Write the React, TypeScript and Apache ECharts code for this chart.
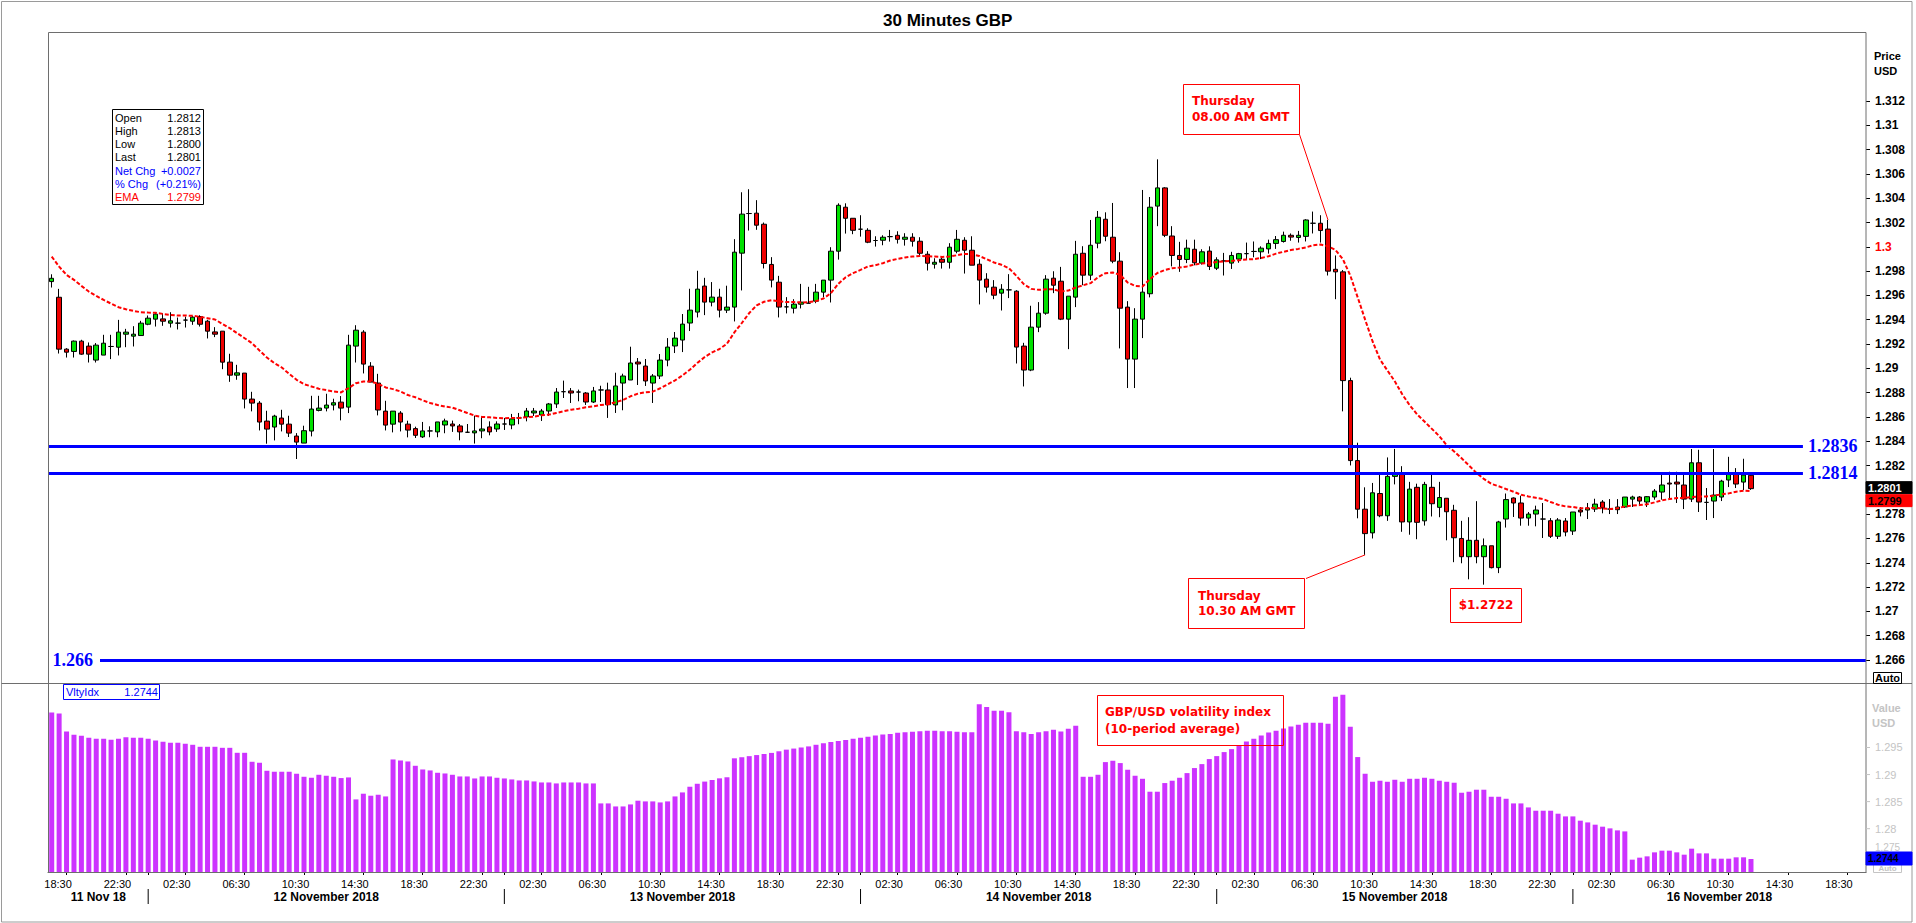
import React, { useEffect, useRef } from "react";
import * as echarts from "echarts";

const TITLE = "30 Minutes GBP";
const FIRST_SLOT_MINUTES = 17 * 60 + 30; // 11 Nov 18, 17:30
const SLOT_COUNT = 245;

const opens = [
  1.29714, 1.29585, 1.29158, 1.29139, 1.29224, 1.29183, 1.29068, 1.29109, 1.2918, 1.29174,
  1.29281, 1.29265, 1.2927, 1.29363, 1.29405, 1.29407, 1.29372, 1.29372, 1.29397, 1.29388,
  1.29426, 1.29388, 1.293, 1.29306, 1.29051, 1.28944, 1.28961, 1.28747, 1.28714, 1.28566,
  1.28517, 1.28591, 1.28541, 1.28443, 1.28385, 1.28484, 1.28654, 1.28673, 1.28698, 1.28722,
  1.28681, 1.29183, 1.29298, 1.29018, 1.28879, 1.28648, 1.28541, 1.28632, 1.28541, 1.28504,
  1.28436, 1.28485, 1.28477, 1.28534, 1.28542, 1.28526, 1.28474, 1.28469, 1.28485, 1.28518,
  1.28501, 1.28542, 1.28534, 1.28592, 1.286, 1.28633, 1.28616, 1.28649, 1.28707, 1.28808,
  1.28814, 1.28805, 1.28797, 1.28723, 1.28822, 1.28822, 1.28699, 1.28879, 1.28904, 1.29052,
  1.29019, 1.28879, 1.28937, 1.29068, 1.29184, 1.29233, 1.29373, 1.29463, 1.29677, 1.29545,
  1.29586, 1.29479, 1.29504, 1.29948, 1.30274, 1.30277, 1.30186, 1.29855, 1.29709, 1.29506,
  1.29495, 1.29528, 1.29536, 1.29553, 1.29627, 1.29726, 1.29964, 1.30326, 1.30235, 1.30145,
  1.30136, 1.30052, 1.30054, 1.30084, 1.30095, 1.30062, 1.30079, 1.30046, 1.29939, 1.29857,
  1.29898, 1.29873, 1.29964, 1.30054, 1.29972, 1.29857, 1.29734, 1.29668, 1.29619, 1.29646,
  1.29635, 1.29183, 1.28986, 1.29339, 1.29454, 1.29742, 1.29717, 1.29405, 1.29586, 1.29947,
  1.29767, 1.3003, 1.30227, 1.30079, 1.29882, 1.29504, 1.29076, 1.29405, 1.29614, 1.30335,
  1.30485, 1.30089, 1.29929, 1.29896, 1.2998, 1.29866, 1.29965, 1.29824, 1.29884, 1.29866,
  1.29899, 1.29944, 1.29962, 1.29959, 1.29983, 1.30028, 1.30044, 1.30095, 1.30077, 1.30086,
  1.30194, 1.30194, 1.30146, 1.29815, 1.29794, 1.28899, 1.28241, 1.27841, 1.27646, 1.2797,
  1.27787, 1.28111, 1.28135, 1.27736, 1.28021, 1.27745, 1.28021, 1.27856, 1.27931, 1.27832,
  1.276, 1.2745, 1.27585, 1.2745, 1.2754, 1.2736, 1.2776, 1.27933, 1.27892, 1.27768,
  1.27801, 1.2776, 1.27746, 1.27618, 1.27744, 1.27661, 1.27834, 1.27834, 1.27842, 1.279,
  1.27842, 1.27837, 1.27859, 1.27924, 1.27941, 1.279, 1.27941, 1.27982, 1.28056, 1.28064,
  1.2804, 1.27924, 1.28223, 1.27897, 1.27908, 1.27941, 1.28081, 1.2813, 1.28064, 1.2812
];
const closes = [
  1.29741, 1.29158, 1.29133, 1.29224, 1.29117, 1.29117, 1.29191, 1.29207, 1.2918, 1.29298,
  1.29298, 1.29281, 1.29372, 1.29413, 1.29446, 1.29388, 1.29391, 1.29372, 1.29397, 1.29421,
  1.29363, 1.29306, 1.29281, 1.29051, 1.28944, 1.28963, 1.28747, 1.28714, 1.28558, 1.285,
  1.28607, 1.28541, 1.28467, 1.28393, 1.28487, 1.28665, 1.28673, 1.28698, 1.28717, 1.28673,
  1.29191, 1.29314, 1.29035, 1.28887, 1.28657, 1.28533, 1.28648, 1.28558, 1.28492, 1.28449,
  1.28485, 1.28485, 1.28559, 1.28567, 1.28526, 1.28477, 1.28474, 1.28485, 1.28501, 1.28477,
  1.28542, 1.28542, 1.28584, 1.28592, 1.28649, 1.28649, 1.28649, 1.28707, 1.28805, 1.28808,
  1.28797, 1.28805, 1.28723, 1.28814, 1.28822, 1.28701, 1.28855, 1.28937, 1.29044, 1.29036,
  1.28896, 1.28937, 1.29068, 1.29175, 1.29249, 1.29364, 1.29479, 1.29652, 1.29545, 1.29586,
  1.29479, 1.29504, 1.29956, 1.30269, 1.30274, 1.30178, 1.29863, 1.29726, 1.29504, 1.29506,
  1.29528, 1.29545, 1.29536, 1.29627, 1.29726, 1.29964, 1.30342, 1.30235, 1.30136, 1.30145,
  1.30038, 1.30052, 1.30079, 1.30084, 1.30062, 1.30079, 1.30046, 1.29947, 1.29865, 1.29873,
  1.29873, 1.29997, 1.30062, 1.29972, 1.29849, 1.29726, 1.29668, 1.29602, 1.29651, 1.29646,
  1.29175, 1.28986, 1.29339, 1.29454, 1.29734, 1.29684, 1.29405, 1.29594, 1.29939, 1.29767,
  1.30013, 1.30243, 1.30087, 1.29882, 1.29495, 1.29076, 1.29405, 1.29627, 1.30326, 1.30485,
  1.30095, 1.29929, 1.29896, 1.29989, 1.29869, 1.29959, 1.29839, 1.29893, 1.29884, 1.29929,
  1.29944, 1.29944, 1.29962, 1.29989, 1.30028, 1.30059, 1.30095, 1.3008, 1.30095, 1.30221,
  1.30194, 1.30134, 1.298, 1.29794, 1.28899, 1.28241, 1.27841, 1.2764, 1.27976, 1.27787,
  1.28111, 1.28135, 1.27736, 1.28006, 1.27733, 1.28045, 1.27886, 1.27937, 1.2782, 1.27606,
  1.2745, 1.27585, 1.2745, 1.2754, 1.2736, 1.27736, 1.2792, 1.27892, 1.27768, 1.27801,
  1.27834, 1.2776, 1.27618, 1.27752, 1.27653, 1.27818, 1.27818, 1.27851, 1.27883, 1.27851,
  1.27842, 1.27859, 1.27941, 1.27941, 1.27908, 1.27944, 1.2799, 1.2804, 1.28048, 1.28048,
  1.27924, 1.28223, 1.279, 1.27897, 1.27957, 1.28072, 1.28138, 1.28048, 1.28122, 1.2801
];
const lows = [
  1.29665, 1.29122, 1.29089, 1.29089, 1.29111, 1.29048, 1.29048, 1.29109, 1.29076, 1.29106,
  1.29174, 1.2918, 1.2927, 1.29355, 1.29344, 1.2935, 1.29336, 1.2932, 1.29336, 1.29358,
  1.29344, 1.29246, 1.29257, 1.28993, 1.28889, 1.28906, 1.2867, 1.28646, 1.28489, 1.2838,
  1.28407, 1.28481, 1.28435, 1.28254, 1.28385, 1.2844, 1.28646, 1.28646, 1.28654, 1.28572,
  1.28632, 1.29048, 1.28958, 1.28887, 1.28613, 1.28489, 1.28473, 1.28481, 1.28432, 1.28427,
  1.28427, 1.28433, 1.28433, 1.28466, 1.28477, 1.28408, 1.28469, 1.28381, 1.28425, 1.28449,
  1.28477, 1.28493, 1.28499, 1.2854, 1.28564, 1.28608, 1.28567, 1.28608, 1.28674, 1.28756,
  1.28715, 1.28729, 1.28699, 1.28715, 1.28723, 1.28592, 1.28633, 1.28655, 1.28904, 1.28863,
  1.28855, 1.28715, 1.28912, 1.29017, 1.29126, 1.29134, 1.29307, 1.29419, 1.29438, 1.2951,
  1.29419, 1.29455, 1.29386, 1.29641, 1.30134, 1.3014, 1.29822, 1.29666, 1.29419, 1.29452,
  1.29452, 1.29493, 1.29536, 1.29536, 1.29586, 1.29542, 1.29895, 1.30109, 1.30104, 1.30084,
  1.3003, 1.30002, 1.30013, 1.30043, 1.30027, 1.3001, 1.30002, 1.2992, 1.29805, 1.29821,
  1.29821, 1.29821, 1.29947, 1.2978, 1.29849, 1.29526, 1.29624, 1.29569, 1.29476, 1.29578,
  1.2904, 1.28851, 1.28977, 1.29298, 1.29441, 1.29619, 1.29397, 1.29158, 1.29504, 1.29684,
  1.29726, 1.29988, 1.30046, 1.29865, 1.29164, 1.28838, 1.28838, 1.29249, 1.29584, 1.3017,
  1.3008, 1.29839, 1.29794, 1.29866, 1.29848, 1.29854, 1.29809, 1.29809, 1.29764, 1.29818,
  1.29869, 1.29899, 1.29914, 1.29899, 1.29944, 1.29983, 1.30035, 1.3005, 1.30035, 1.30044,
  1.3011, 1.30035, 1.29764, 1.29569, 1.28646, 1.28201, 1.27766, 1.27465, 1.276, 1.27775,
  1.27745, 1.28045, 1.27655, 1.27631, 1.27594, 1.27706, 1.27781, 1.27775, 1.27585, 1.27405,
  1.27396, 1.27264, 1.27396, 1.2722, 1.27354, 1.27315, 1.2769, 1.27777, 1.27705, 1.27705,
  1.277, 1.27604, 1.27604, 1.27596, 1.27618, 1.27629, 1.27782, 1.2776, 1.27818, 1.27807,
  1.27801, 1.27801, 1.27851, 1.27859, 1.27875, 1.27859, 1.27919, 1.27919, 1.27919, 1.27892,
  1.27842, 1.279, 1.27818, 1.27752, 1.27768, 1.27908, 1.28023, 1.28015, 1.27998, 1.28
];
const highs = [
  1.29774, 1.29654, 1.29166, 1.29229, 1.29235, 1.29213, 1.29208, 1.29276, 1.29276, 1.29399,
  1.29325, 1.29347, 1.29391, 1.29435, 1.29462, 1.29454, 1.29462, 1.29418, 1.29426, 1.29432,
  1.29437, 1.29399, 1.29339, 1.29306, 1.2912, 1.29029, 1.28961, 1.28807, 1.28731, 1.28651,
  1.28618, 1.28659, 1.2861, 1.28467, 1.28528, 1.28774, 1.28774, 1.28791, 1.2875, 1.28772,
  1.29276, 1.29355, 1.29314, 1.29051, 1.28955, 1.28733, 1.28648, 1.28648, 1.28569, 1.2852,
  1.28559, 1.28523, 1.28559, 1.28586, 1.2857, 1.28542, 1.28542, 1.28611, 1.28605, 1.28564,
  1.28564, 1.28592, 1.28625, 1.28633, 1.28674, 1.28674, 1.28666, 1.28715, 1.28838, 1.28899,
  1.28838, 1.28825, 1.28805, 1.28847, 1.28857, 1.28882, 1.28964, 1.28956, 1.29178, 1.29085,
  1.29077, 1.28953, 1.29118, 1.29249, 1.29299, 1.29447, 1.29655, 1.29803, 1.29745, 1.2971,
  1.29655, 1.2968, 1.30063, 1.30449, 1.30474, 1.30384, 1.302, 1.29915, 1.29761, 1.29586,
  1.29569, 1.29695, 1.29671, 1.29695, 1.29726, 1.29997, 1.30358, 1.30358, 1.30235, 1.3026,
  1.30153, 1.30087, 1.30095, 1.30139, 1.30128, 1.30112, 1.30112, 1.30079, 1.29964, 1.29906,
  1.29915, 1.3003, 1.30139, 1.30079, 1.30087, 1.29898, 1.29783, 1.29726, 1.29693, 1.29775,
  1.29643, 1.2921, 1.29515, 1.29545, 1.29767, 1.29799, 1.29835, 1.29594, 1.30049, 1.30005,
  1.30221, 1.30295, 1.30284, 1.30361, 1.29956, 1.29553, 1.29495, 1.30468, 1.3041, 1.3072,
  1.30491, 1.3017, 1.30041, 1.30059, 1.30059, 1.2998, 1.30004, 1.29914, 1.2995, 1.29959,
  1.2995, 1.30035, 1.30044, 1.30004, 1.30059, 1.30089, 1.30125, 1.3011, 1.30131, 1.30227,
  1.3029, 1.3026, 1.30221, 1.29929, 1.29809, 1.28923, 1.28388, 1.28021, 1.28057, 1.28126,
  1.28267, 1.28337, 1.28195, 1.28066, 1.28051, 1.28066, 1.28126, 1.28066, 1.27931, 1.27877,
  1.27745, 1.27775, 1.27907, 1.276, 1.2754, 1.27745, 1.2797, 1.27938, 1.27952, 1.27818,
  1.2787, 1.27892, 1.27768, 1.27768, 1.27768, 1.27818, 1.27859, 1.27892, 1.27927, 1.27916,
  1.27924, 1.27924, 1.27941, 1.27952, 1.27949, 1.27949, 1.28007, 1.28125, 1.28149, 1.28149,
  1.28125, 1.28336, 1.2833, 1.28015, 1.28336, 1.28083, 1.28272, 1.28179, 1.28256, 1.2813
];
const emaValues = [
  1.2992, 1.29837, 1.29769, 1.29728, 1.29679, 1.29632, 1.29596, 1.29563, 1.29533, 1.29503,
  1.29487, 1.29473, 1.29462, 1.29459, 1.29457, 1.29448, 1.2944, 1.29435, 1.29435, 1.29432,
  1.29424, 1.29413, 1.29402, 1.29366, 1.29331, 1.29289, 1.29248, 1.29207, 1.29147, 1.29089,
  1.29043, 1.29007, 1.28955, 1.28906, 1.2887, 1.28851, 1.28832, 1.28821, 1.2881, 1.28802,
  1.28837, 1.28878, 1.28892, 1.28892, 1.28873, 1.28843, 1.28829, 1.2881, 1.2878, 1.28762,
  1.28737, 1.28715, 1.28699, 1.28685, 1.28677, 1.28655, 1.28633, 1.28611, 1.286, 1.28597,
  1.28592, 1.28589, 1.28592, 1.28592, 1.28597, 1.28603, 1.28614, 1.28619, 1.28633, 1.28647,
  1.2866, 1.28668, 1.28679, 1.28687, 1.28699, 1.28704, 1.28721, 1.2874, 1.2877, 1.28792,
  1.28803, 1.28808, 1.28836, 1.28868, 1.28901, 1.28942, 1.28989, 1.29044, 1.29093, 1.29131,
  1.29159, 1.29203, 1.29296, 1.29373, 1.29455, 1.29518, 1.29548, 1.2956, 1.29553, 1.29545,
  1.29545, 1.29542, 1.29545, 1.29553, 1.29575, 1.29619, 1.29695, 1.2975, 1.29783, 1.2981,
  1.29838, 1.29849, 1.29865, 1.29887, 1.29901, 1.29912, 1.2992, 1.29925, 1.29923, 1.2992,
  1.29917, 1.2992, 1.29931, 1.29942, 1.29939, 1.29925, 1.29898, 1.29871, 1.29852, 1.29824,
  1.29761, 1.29693, 1.29654, 1.29646, 1.29651, 1.29651, 1.29632, 1.2964, 1.29665, 1.29684,
  1.29701, 1.2975, 1.29783, 1.29789, 1.29769, 1.29706, 1.29679, 1.29673, 1.29734, 1.29785,
  1.29809, 1.29824, 1.2983, 1.29839, 1.29854, 1.29863, 1.29866, 1.29875, 1.29881, 1.29884,
  1.2989, 1.29896, 1.29899, 1.29908, 1.29923, 1.29944, 1.29959, 1.29974, 1.29983, 1.29995,
  1.30013, 1.30019, 1.30004, 1.29974, 1.29899, 1.29764, 1.29584, 1.29401, 1.29223, 1.29073,
  1.28983, 1.28893, 1.28787, 1.28697, 1.28622, 1.28562, 1.28502, 1.28442, 1.28367, 1.28316,
  1.2826, 1.282, 1.2814, 1.2809, 1.2805, 1.2803, 1.28007, 1.27985, 1.2796, 1.27946,
  1.27935, 1.27924, 1.279, 1.27878, 1.27864, 1.27859, 1.27848, 1.27848, 1.27853, 1.27848,
  1.27842, 1.27848, 1.27864, 1.2787, 1.27875, 1.27881, 1.27897, 1.27914, 1.27924, 1.27933,
  1.27933, 1.27941, 1.27946, 1.27946, 1.27952, 1.27963, 1.27971, 1.27985, 1.27993, 1.2799
];
const volatility = [
  1.30146, 1.30127, 1.29795, 1.29734, 1.29716, 1.29679, 1.29661, 1.29661, 1.29642, 1.29661,
  1.29691, 1.29679, 1.29679, 1.29661, 1.2963, 1.29605, 1.29587, 1.29587, 1.29568, 1.2955,
  1.29513, 1.29513, 1.29513, 1.29494, 1.29494, 1.29402, 1.29402, 1.29236, 1.29218, 1.2907,
  1.29052, 1.29052, 1.29052, 1.29015, 1.28959, 1.28941, 1.28996, 1.28978, 1.28959, 1.28935,
  1.28947, 1.28541, 1.28646, 1.28609, 1.28627, 1.28596, 1.29279, 1.2926, 1.29242, 1.29162,
  1.29094, 1.29076, 1.29033, 1.2902, 1.28996, 1.28965, 1.28965, 1.28928, 1.28965, 1.28965,
  1.28941, 1.28928, 1.2891, 1.28891, 1.28891, 1.28873, 1.28854, 1.28854, 1.28836, 1.28854,
  1.28854, 1.28854, 1.28836, 1.28836, 1.28467, 1.28467, 1.28411, 1.28411, 1.28448, 1.28517,
  1.28504, 1.28504, 1.28485, 1.28504, 1.28596, 1.2867, 1.28775, 1.2883,
  1.2887, 1.289, 1.2893, 1.2895, 1.293, 1.2932, 1.2934, 1.2936, 1.2938, 1.294,
  1.2943, 1.2946, 1.2948, 1.295, 1.2952, 1.2955, 1.2958, 1.296, 1.2962, 1.2964,
  1.2966, 1.2968, 1.297, 1.2972, 1.2974, 1.2975, 1.2977, 1.2978, 1.2979, 1.298,
  1.2981, 1.2981, 1.298, 1.298, 1.2979, 1.2978, 1.2978, 1.303, 1.3025, 1.3018,
  1.3018, 1.3015, 1.298, 1.2978, 1.2975, 1.2978, 1.298,
  1.29827, 1.29795, 1.29845, 1.299, 1.28959, 1.28959, 1.28996, 1.2923, 1.29255, 1.29212,
  1.29089, 1.28978, 1.28922, 1.28683, 1.28683, 1.28843, 1.28886, 1.28941, 1.29027, 1.2912,
  1.29193, 1.29286, 1.29341, 1.29415, 1.2947, 1.29544, 1.29611, 1.29661, 1.29721, 1.29777,
  1.29808, 1.29851, 1.29887, 1.29919, 1.29956, 1.29956, 1.29956, 1.29937, 1.30435, 1.30472,
  1.29882, 1.29323, 1.29015, 1.28867, 1.28886, 1.28867, 1.28904, 1.28867, 1.28922, 1.28922,
  1.28941, 1.28922, 1.28886, 1.28867, 1.28849, 1.28664, 1.28683, 1.2872, 1.2872, 1.2859,
  1.2859, 1.28553, 1.28467, 1.28467, 1.28393, 1.28332, 1.28332, 1.28332, 1.28277, 1.28227,
  1.28227, 1.28148, 1.28116, 1.28074, 1.28037, 1.28006, 1.27969, 1.2795, 1.27428, 1.27465,
  1.27489, 1.27563, 1.27594, 1.27594, 1.27563, 1.2752, 1.27631, 1.27544, 1.27544, 1.27446,
  1.27446, 1.27446, 1.27471, 1.27471, 1.2744
];

const resistanceLevels = [1.2836, 1.2814];
const supportLevel = 1.266;
const volTicks = [1.295, 1.29, 1.285, 1.28, 1.275];
const hiddenPriceLabels = ["1.28"]; // covered by the last-price tag
const dateLabels = ["11 Nov 18", "12 November 2018", "13 November 2018", "14 November 2018", "15 November 2018", "16 November 2018"];
const infoRows: [string, string, string][] = [
  ["Open", "1.2812", "#000000"],
  ["High", "1.2813", "#000000"],
  ["Low", "1.2800", "#000000"],
  ["Last", "1.2801", "#000000"],
  ["Net Chg", "+0.0027", "#0000ff"],
  ["% Chg", "(+0.21%)", "#0000ff"],
  ["EMA", "1.2799", "#ff0000"],
];
const lastCloseText = "1.2801";
const lastEmaText = "1.2799";
const lastVolText = "1.2744";
const annot1Index = 172; // Thursday 08.00 AM GMT candle
const annot2Index = 177; // Thursday 10.30 AM GMT candle

function slotMinutes(i: number) {
  return (FIRST_SLOT_MINUTES + i * 30) % 1440;
}
function slotTime(i: number) {
  const m = slotMinutes(i);
  return `${String(Math.floor(m / 60)).padStart(2, "0")}:${String(m % 60).padStart(2, "0")}`;
}
const categories = Array.from({ length: SLOT_COUNT }, (_, i) => slotTime(i));
const isLabelSlot = (i: number) => {
  const m = slotMinutes(i);
  return m % 60 === 30 && Math.floor(m / 60) % 4 === 2;
};
const isMidnight = (i: number) => slotMinutes(i) === 0;
const midnightIdx = categories.map((_, i) => i).filter(isMidnight);

const candleData = opens.map((o, i) => [o, closes[i], lows[i], highs[i]]);

const SANS = "Liberation Sans";
const BOLDSANS = "DejaVu Sans";

export default function App() {
  const ref = useRef<HTMLDivElement>(null);
  useEffect(() => {
    if (!ref.current) return;
    const chart = echarts.init(ref.current, undefined, { renderer: "svg" });
    const option: any = {
      animation: false,
      backgroundColor: "#ffffff",
      title: {
        text: TITLE,
        left: 878,
        top: 7,
        textStyle: { fontFamily: SANS, fontWeight: "bold", fontSize: 17, color: "#000" },
      },
      grid: [
        { left: 48, right: 50, top: 101, bottom: 263 },
        { left: 48, right: 50, top: 683.5, bottom: 51 },
      ],
      xAxis: [
        {
          type: "category", gridIndex: 0, data: categories, boundaryGap: true,
          axisLine: { show: false }, axisTick: { show: false }, axisLabel: { show: false }, splitLine: { show: false },
        },
        {
          type: "category", gridIndex: 1, data: categories, boundaryGap: true,
          axisLine: { lineStyle: { color: "#606060", width: 1 } },
          axisTick: {
            show: true, alignWithLabel: true, length: 3, lineStyle: { color: "#000" },
            interval: (i: number) => isLabelSlot(i) || isMidnight(i),
          },
          axisLabel: {
            interval: (i: number) => isLabelSlot(i),
            fontFamily: SANS, fontSize: 11, color: "#000", margin: 6, padding: [0, 17, 0, 0],
          },
          splitLine: { show: false },
        },
      ],
      yAxis: [
        {
          type: "value", gridIndex: 0, position: "right", min: 1.266, max: 1.312, interval: 0.002,
          splitLine: { show: false }, axisLine: { show: false },
          axisTick: { show: true, length: 4, lineStyle: { color: "#000" } },
          axisLabel: {
            margin: 9, showMinLabel: true, showMaxLabel: true,
            fontFamily: SANS, fontWeight: "bold", fontSize: 12, color: "#000",
            formatter: (v: number) => {
              const s = String(parseFloat(v.toFixed(3)));
              if (hiddenPriceLabels.includes(s)) return "";
              return s === "1.3" ? `{r|${s}}` : s;
            },
            rich: { r: { color: "#ff0000", fontFamily: SANS, fontWeight: "bold", fontSize: 12 } },
          },
        },
        {
          type: "value", gridIndex: 1, position: "right", min: 1.272, max: 1.30682, startValue: 1.272,
          splitLine: { show: false }, axisLine: { show: false }, axisTick: { show: false }, axisLabel: { show: false },
        },
      ],
      series: [
        {
          name: "GBP", type: "candlestick", xAxisIndex: 0, yAxisIndex: 0, data: candleData, barWidth: 5,
          itemStyle: {
            color: "#00e000", color0: "#ee0000", borderColor: "#000", borderColor0: "#000",
            borderColorDoji: "#000", borderWidth: 1,
          },
          markLine: {
            silent: true, animation: false, symbol: ["none", "none"],
            lineStyle: { color: "#0000ff", width: 3, type: "solid" },
            label: { color: "#0000ff", fontFamily: "Liberation Serif", fontWeight: "bold", fontSize: 18, distance: 5 },
            emphasis: { disabled: true },
            data: [
              ...resistanceLevels.map((lv) => [
                { coord: [0, lv], x: 48 },
                { coord: [236, lv], label: { position: "end", formatter: String(lv) } },
              ]),
              [
                { coord: [7, supportLevel], x: 100 },
                { coord: [244, supportLevel], x: 1866, label: { position: "start", distance: 7, formatter: String(supportLevel) } },
              ],
            ],
          },
          z: 2,
        },
        {
          name: "EMA", type: "line", xAxisIndex: 0, yAxisIndex: 0, data: emaValues, symbol: "none",
          lineStyle: { color: "#ff0000", width: 2, type: [4, 2] }, z: 3, silent: true,
        },
        {
          name: "VltyIdx", type: "bar", xAxisIndex: 1, yAxisIndex: 1, data: volatility, barWidth: 5, clip: true,
          itemStyle: { color: "#cc33ff" }, silent: true,
        },
      ],
    };
    chart.setOption(option);

    const P = (i: number, v: number) => chart.convertToPixel({ xAxisIndex: 0, yAxisIndex: 0 }, [i, v]) as number[];
    const volY = (v: number) => chart.convertToPixel({ yAxisIndex: 1 }, v) as number;
    const volX = (i: number) => chart.convertToPixel({ xAxisIndex: 1 }, i) as number;

    const txt = (x: number, y: number, text: string, o: any = {}) => ({
      type: "text", x, y, silent: true, z: o.z || 50,
      style: {
        text, fill: o.fill || "#000", fontSize: o.fontSize || 11, fontFamily: o.fontFamily || SANS,
        fontWeight: o.fontWeight || "normal", align: o.align || "left", verticalAlign: "middle",
        textShadowColor: o.shadow ? "rgba(120,0,0,0.45)" : undefined,
        textShadowOffsetX: o.shadow ? 1 : 0, textShadowOffsetY: o.shadow ? 1 : 0,
      },
    });
    const rect = (x: number, y: number, w: number, h: number, stroke: string, fill = "none", z = 40) => ({
      type: "rect", silent: true, z, shape: { x, y, width: w, height: h }, style: { fill, stroke, lineWidth: 1 },
    });
    const line = (x1: number, y1: number, x2: number, y2: number, stroke: string, z = 40) => ({
      type: "line", silent: true, z, shape: { x1, y1, x2, y2 }, style: { stroke, lineWidth: 1 },
    });

    const g: any[] = [];
    // frames
    g.push(rect(1.5, 1.5, 1910.5, 920.5, "#9a9a9a", "none", 30));
    g.push(rect(48.5, 32.5, 1817.5, 840, "#6e6e6e", "none", 30));
    g.push(line(1.5, 683.5, 1912, 683.5, "#6e6e6e", 30));

    // info box
    g.push(rect(112.5, 109.5, 91, 95, "#000"));
    infoRows.forEach(([k, v, c], r) => {
      const y = 117.5 + r * 13.3;
      g.push(txt(115, y, k, { fill: c }));
      g.push(txt(201, y, v, { fill: c, align: "right" }));
    });

    // price axis header + auto
    g.push(txt(1874, 56, "Price", { fontWeight: "bold" }));
    g.push(txt(1874, 71, "USD", { fontWeight: "bold" }));
    g.push(rect(1873.5, 672.5, 28, 11, "#000"));
    g.push(txt(1887.5, 678, "Auto", { fontWeight: "bold", align: "center" }));

    // last price tags
    const yc = P(opens.length - 1, closes[closes.length - 1])[1];
    g.push(rect(1866, yc - 7, 46, 12, "#000", "#000", 45));
    g.push(txt(1868, yc - 1, lastCloseText, { fill: "#fff", fontWeight: "bold" }));
    g.push(rect(1866, yc + 6, 46, 12, "#ff0000", "#ff0000", 45));
    g.push(txt(1868, yc + 12, lastEmaText, { fill: "#000", fontWeight: "bold" }));

    // volatility axis
    g.push(txt(1872, 708, "Value", { fontWeight: "bold", fill: "#c4c4c4" }));
    g.push(txt(1872, 723, "USD", { fontWeight: "bold", fill: "#c4c4c4" }));
    const yv = volY(volatility[volatility.length - 1]);
    volTicks.forEach((v) => {
      const y = volY(v);
      g.push(line(1866, y, 1870, y, "#c4c4c4"));
      // keep the tick label clear of the last-value tag
      const ly = Math.abs(y - yv) < 12 ? yv - 12 : y;
      g.push(txt(1875, ly, String(v), { fill: "#c4c4c4", fontSize: Math.abs(y - yv) < 12 ? 10 : 11 }));
    });
    g.push(rect(1873.5, 863.5, 28, 9, "#c4c4c4"));
    g.push(txt(1887.5, 868.5, "Auto", { fontWeight: "bold", fill: "#c4c4c4", align: "center", fontSize: 8 }));
    g.push(rect(1866, yv - 7, 46, 13, "#0000ff", "#0000ff", 45));
    g.push(txt(1868, yv - 0.5, lastVolText, { fill: "#000", fontWeight: "bold", fontSize: 10, z: 55 }));

    // VltyIdx legend
    g.push(rect(63.5, 684.5, 96, 15, "#0000ff"));
    g.push(txt(66, 692, "VltyIdx", { fill: "#0000ff" }));
    g.push(txt(158, 692, lastVolText, { fill: "#0000ff", align: "right" }));

    // annotations
    const ann = { fill: "#ff0000", fontWeight: "bold", fontFamily: BOLDSANS, fontSize: 12, shadow: true };
    g.push(rect(1183.5, 84.5, 116, 50, "#ff0000"));
    g.push(txt(1192, 101, "Thursday", ann));
    g.push(txt(1192, 116.5, "08.00 AM GMT", ann));
    const a1 = P(annot1Index, highs[annot1Index]);
    g.push(line(1299.5, 134.5, a1[0], a1[1], "#ff0000"));

    g.push(rect(1188.5, 578.5, 116, 50, "#ff0000"));
    g.push(txt(1198, 595.5, "Thursday", ann));
    g.push(txt(1198, 611, "10.30 AM GMT", ann));
    const a2 = P(annot2Index, lows[annot2Index]);
    g.push(line(1306, 578.5, a2[0], a2[1], "#ff0000"));

    g.push(rect(1450.5, 588.5, 71, 34, "#ff0000"));
    g.push(txt(1486, 605, "$1.2722", { ...ann, align: "center" }));

    g.push(rect(1097.5, 695.5, 186, 50, "#ff0000"));
    g.push(txt(1105, 712, "GBP/USD volatility index", ann));
    g.push(txt(1105, 728.5, "(10-period average)", ann));

    // date row
    const seps = midnightIdx.map((i) => volX(i));
    const bounds = [48.5, ...seps, 1866];
    seps.forEach((x) => g.push(line(x, 889, x, 904, "#000")));
    dateLabels.forEach((d, k) => {
      const cx = (bounds[k] + bounds[k + 1]) / 2;
      g.push(txt(cx, 897, d, { fontWeight: "bold", fontSize: 12, align: "center" }));
    });

    chart.setOption({ graphic: g });
    return () => chart.dispose();
  }, []);
  return <div ref={ref} style={{ position: "absolute", left: 0, top: 0, width: 1916, height: 923 }} />;
}
